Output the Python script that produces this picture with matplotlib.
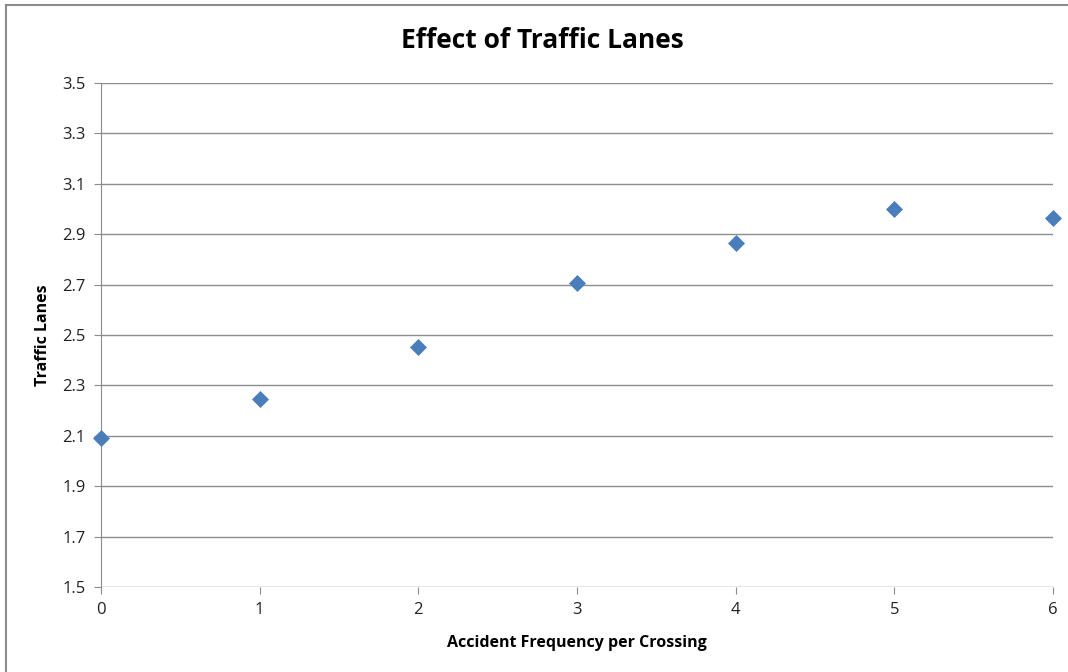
import matplotlib
matplotlib.use("Agg")
import matplotlib.pyplot as plt
from matplotlib.patches import Rectangle

accident_freq = [0, 1, 2, 3, 4, 5, 6]
traffic_lanes = [2.09, 2.246, 2.452, 2.706, 2.865, 3.0, 2.965]
y_ticks = [1.5, 1.7, 1.9, 2.1, 2.3, 2.5, 2.7, 2.9, 3.1, 3.3, 3.5]

plt.rcParams['font.family'] = ['Open Sans', 'DejaVu Sans']

fig = plt.figure(figsize=(10.68, 6.72), dpi=100)
ax = fig.add_axes([0.0946, 0.1265, 0.8914, 0.75])

# gray outer frame of the chart area
fig.patches.append(Rectangle((0.0055, -0.01), 1.0, 1.0025,
                             transform=fig.transFigure, fill=False,
                             edgecolor='#8c8c8c', linewidth=1.5))

ax.scatter(accident_freq, traffic_lanes, marker='D', s=75,
           color='#4a7ebb', zorder=3, linewidths=0, clip_on=False)

ax.set_xlim(0, 6)
ax.set_ylim(1.5, 3.5)
ax.set_yticks(y_ticks)
ax.set_yticklabels([f"{v:.1f}" for v in y_ticks])
ax.set_xticks(accident_freq)
ax.grid(axis='y', color='#8c8c8c', linewidth=1)
ax.set_axisbelow(True)

for side in ['top', 'right', 'bottom']:
    ax.spines[side].set_visible(False)
ax.spines['left'].set_color('#8c8c8c')
ax.tick_params(axis='both', colors='#8c8c8c', labelcolor='#222222',
               labelsize=12, length=5, direction='out')
ax.tick_params(axis='y', pad=6)
ax.tick_params(axis='x', pad=6)

fig.text(0.508, 0.94, "Effect of Traffic Lanes", fontsize=19,
         fontweight='bold', ha='center', va='center')
ax.set_xlabel("Accident Frequency per Crossing", fontsize=11.5, fontweight='bold', labelpad=12)
ax.set_ylabel("Traffic Lanes", fontsize=11.5, fontweight='bold', labelpad=8)

fig.savefig("out.png", dpi=100)
